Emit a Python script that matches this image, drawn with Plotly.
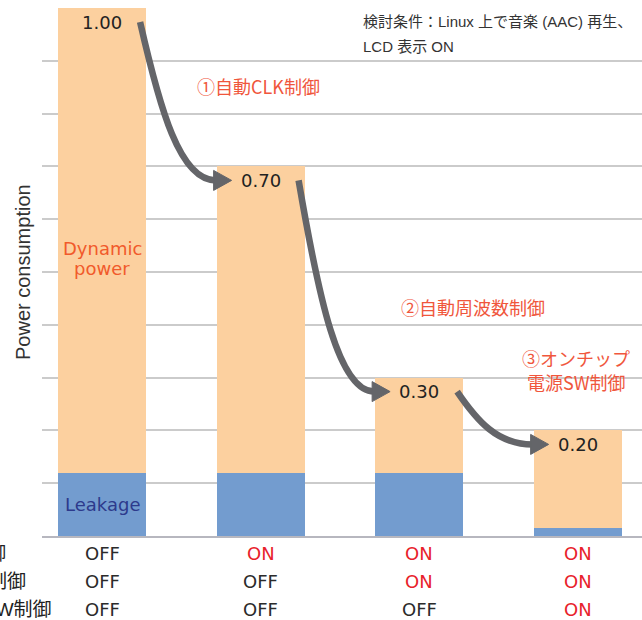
import plotly.graph_objects as go

# ---------------- data ----------------
categories = [0, 1, 2, 3]
leakage = [0.12, 0.12, 0.12, 0.015]
dynamic = [0.88, 0.58, 0.18, 0.185]
totals = [1.00, 0.70, 0.30, 0.20]
total_labels = ["1.00", "0.70", "0.30", "0.20"]
row_labels = ["①自動CLK制御", "②自動周波数制御", "③オンチップ電源SW制御"]
row_states = [
    ["OFF", "ON", "ON", "ON"],
    ["OFF", "OFF", "ON", "ON"],
    ["OFF", "OFF", "OFF", "ON"],
]
step_labels = [["①自動CLK制御"], ["②自動周波数制御"], ["③オンチップ", "電源SW制御"]]
condition_lines = ["検討条件：Linux 上で音楽 (AAC) 再生、", "LCD 表示 ON"]
dynamic_label = ["Dynamic", "power"]
leakage_label = "Leakage"
y_title = "Power consumption"

# ---------------- layout constants ----------------
W, H = 642, 620
ML, MR, MT, MB = 42, 0, 8, 84
PW, PH = W - ML - MR, H - MT - MB
XR = [-0.379, 3.406]
YR = [0, 1]
PX_X = PW / (XR[1] - XR[0])   # pixels per x unit
PX_Y = PH / (YR[1] - YR[0])   # pixels per y unit

F_NUM = "DejaVu Sans, Noto Sans CJK JP, sans-serif"
F_JP = "Noto Sans CJK JP, sans-serif"
F_COND = "Liberation Sans, Noto Sans CJK JP, sans-serif"
C_DYN = "#fcd09f"
C_LEAK = "#739ccf"
C_RED = "#f0563c"
C_ON = "#e8222b"
C_OFF = "#2b2b2b"
C_ARROW = "#646569"


def py_to_paper(py):
    return (MT + PH - py) / PH


fig = go.Figure()
fig.add_trace(go.Bar(x=categories, y=leakage, width=0.555, marker_color=C_LEAK,
                     marker_line_width=0, hoverinfo="skip"))
fig.add_trace(go.Bar(x=categories, y=dynamic, width=0.555, marker_color=C_DYN,
                     marker_line_width=0, hoverinfo="skip"))

ann = []
# value labels
for x, t, lab in zip(categories, totals, total_labels):
    ann.append(dict(x=x, y=t, xref="x", yref="y", text=lab, showarrow=False,
                    yshift=-14, yanchor="middle",
                    font=dict(family=F_NUM, size=18, color="#222")))

# arrows between bars
shapes = []
lab_off = 14 / PX_Y
for i in range(len(categories) - 1):
    x0 = categories[i] + 38 / PX_X
    y0 = totals[i] - lab_off
    tx = categories[i + 1] - 29 / PX_X
    ty = totals[i + 1] - lab_off
    head = 18 / PX_X
    bx = tx - head
    dx, dy = bx - x0, ty - y0
    p1 = (x0 + 0.27 * dx, y0 + 0.55 * dy)
    p2 = (x0 + 0.54 * dx, ty)
    path = f"M {x0},{y0} C {p1[0]},{p1[1]} {p2[0]},{p2[1]} {bx + 2 / PX_X},{ty}"
    shapes.append(dict(type="path", path=path, xref="x", yref="y",
                       line=dict(color=C_ARROW, width=6.5)))
    hw = 10 / PX_Y
    tri = f"M {tx},{ty} L {bx},{ty + hw} L {bx},{ty - hw} Z"
    shapes.append(dict(type="path", path=tri, xref="x", yref="y",
                       fillcolor=C_ARROW, line=dict(color=C_ARROW, width=1)))

# step labels (x in data units, y in pixels of the first line)
step_pos = [(0.985, 86), (2.34, 307), (2.99, 358)]
for (sx, spy), lines in zip(step_pos, step_labels):
    for k, s in enumerate(lines):
        ann.append(dict(x=sx, y=py_to_paper(spy + 24 * k), xref="x", yref="paper",
                        text=s, showarrow=False, yanchor="middle",
                        font=dict(family=F_JP, size=18, color=C_RED)))

# condition text
for k, line in enumerate(condition_lines):
    ann.append(dict(x=(361 - ML) / PW, y=py_to_paper(22 + 24 * k),
                    xref="paper", yref="paper", text=line, showarrow=False,
                    xanchor="left", yanchor="middle",
                    font=dict(family=F_COND, size=15, color="#333")))

# bar segment labels
for k, line in enumerate(dynamic_label):
    ann.append(dict(x=0, y=py_to_paper(248 + 20 * k), xref="x", yref="paper",
                    text=line, showarrow=False, yanchor="middle",
                    font=dict(family=F_NUM, size=18, color="#f15a2b")))
ann.append(dict(x=0, y=leakage[0] / 2, xref="x", yref="y", text=leakage_label,
                showarrow=False, font=dict(family=F_NUM, size=18, color="#2d3a8c")))

# y title
ann.append(dict(x=(23 - ML) / PW, y=0.5, xref="paper", yref="paper",
                text=y_title, textangle=-90, showarrow=False,
                xanchor="center", yanchor="middle",
                font=dict(family="Liberation Sans, sans-serif", size=20, color="#333")))

# table rows
row_py = [553, 581, 609]
row_edge = [8, 28, 54]
for r, (py, lab, states) in enumerate(zip(row_py, row_labels, row_states)):
    yp = py_to_paper(py)
    ann.append(dict(x=(row_edge[r] - ML) / PW, y=yp, xref="paper", yref="paper",
                    text=lab, showarrow=False, xanchor="right", yanchor="middle",
                    font=dict(family=F_COND, size=19, color="#222")))
    for c, st in zip(categories, states):
        ann.append(dict(x=c, y=yp, xref="x", yref="paper", text=st,
                        showarrow=False, yanchor="middle",
                        font=dict(family=F_NUM, size=18,
                                  color=C_ON if st == "ON" else C_OFF)))

fig.update_layout(
    width=W, height=H,
    margin=dict(l=ML, r=MR, t=MT, b=MB, pad=0),
    barmode="stack", showlegend=False,
    plot_bgcolor="white", paper_bgcolor="white",
    annotations=ann, shapes=shapes,
    xaxis=dict(range=XR, showgrid=False, zeroline=False, showticklabels=False,
               showline=True, linecolor="#b7b7bf", linewidth=2, ticks=""),
    yaxis=dict(range=YR, dtick=0.1, tick0=0, showgrid=True, gridcolor="#cbcbcb",
               gridwidth=1.5, zeroline=False, showticklabels=False, ticks=""),
)

fig.write_html("out.html")
